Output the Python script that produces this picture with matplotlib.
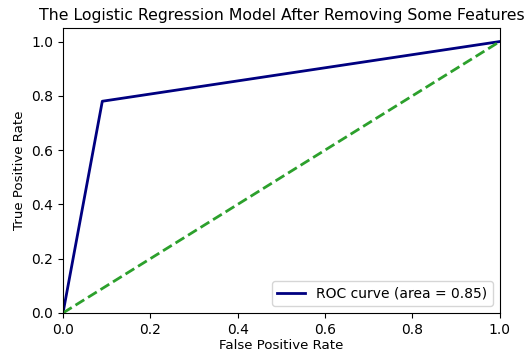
import matplotlib
matplotlib.use("Agg")
import matplotlib.pyplot as plt

fpr = [0.0, 0.09, 1.0]
tpr = [0.0, 0.78, 1.0]
diag_x = [0, 1]
diag_y = [0, 1]
roc_auc = 0.85

fig = plt.figure(figsize=(5.25, 3.54), dpi=100)
ax = fig.add_axes([0.12, 0.116, 0.832, 0.805])
ax.plot(fpr, tpr, color='navy', lw=2, label='ROC curve (area = %0.2f)' % roc_auc)
ax.plot(diag_x, diag_y, color='#2ca02c', lw=2, linestyle='--')
ax.set_xlim(0.0, 1.0)
ax.set_ylim(0.0, 1.05)
ax.set_xlabel('False Positive Rate', fontsize=9.6, labelpad=2)
ax.set_ylabel('True Positive Rate', fontsize=9.6)
ax.set_title('The Logistic Regression Model After Removing Some Features', fontsize=11.3)
ax.tick_params(labelsize=10)
ax.legend(loc='lower right', fontsize=10)
fig.savefig('out.png', dpi=100)
